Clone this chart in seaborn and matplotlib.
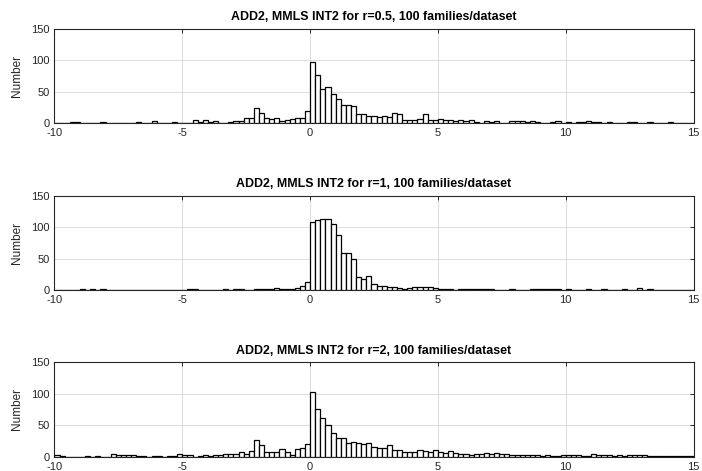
import numpy as np
import pandas as pd
import matplotlib
matplotlib.use("Agg")
import matplotlib.pyplot as plt
import seaborn as sns

# ---------------- data ----------------
titles = [
    "ADD2, MMLS INT2 for r=0.5, 100 families/dataset",
    "ADD2, MMLS INT2 for r=1, 100 families/dataset",
    "ADD2, MMLS INT2 for r=2, 100 families/dataset",
]
bin_start = -10.0
bin_width = 0.2

counts_r05 = [
    1, 1, 1, 2, 2, 1, 1, 1, 1, 2,
    1, 1, 1, 0, 0, 1, 2, 0, 1, 3,
    1, 1, 1, 2, 1, 1, 1, 5, 2, 5,
    2, 3, 1, 1, 2, 3, 4, 8, 9, 24,
    17, 9, 7, 8, 3, 5, 7, 9, 8, 20,
    97, 77, 55, 58, 46, 38, 29, 29, 28, 15,
    15, 12, 11, 10, 12, 10, 16, 14, 6, 5,
    6, 7, 14, 6, 5, 7, 5, 5, 3, 6,
    3, 5, 2, 1, 3, 2, 4, 1, 0, 3,
    3, 4, 2, 3, 2, 1, 1, 2, 3, 1,
    2, 1, 2, 2, 3, 2, 2, 1, 2, 1,
    1, 1, 2, 2, 1, 1, 2, 1, 1, 1,
    2, 1, 1, 1, 1,
]
counts_r1 = [
    0, 0, 0, 0, 0, 2, 0, 1, 0, 1,
    0, 0, 0, 0, 0, 0, 0, 0, 0, 0,
    0, 0, 0, 0, 0, 0, 1, 1, 0, 0,
    0, 0, 0, 1, 0, 1, 1, 0, 0, 1,
    2, 1, 1, 3, 2, 2, 1, 3, 7, 13,
    108, 111, 112, 112, 105, 88, 59, 58, 49, 21,
    17, 22, 10, 6, 7, 4, 5, 3, 2, 3,
    4, 5, 5, 4, 3, 2, 1, 1, 0, 1,
    1, 2, 2, 2, 2, 1, 0, 0, 0, 1,
    0, 0, 0, 1, 1, 1, 1, 1, 2, 0,
    1, 0, 0, 0, 1, 0, 0, 1, 0, 0,
    0, 1, 0, 0, 3, 0, 1, 0, 0, 0,
    0, 0, 0, 0, 0,
]
counts_r2 = [
    3, 1, 0, 0, 0, 0, 1, 0, 1, 0,
    0, 5, 2, 2, 3, 3, 1, 1, 0, 1,
    1, 0, 1, 1, 4, 2, 2, 0, 1, 2,
    1, 2, 2, 5, 5, 4, 7, 5, 9, 27,
    19, 8, 8, 8, 12, 7, 3, 12, 14, 20,
    102, 75, 61, 50, 38, 29, 29, 22, 24, 22,
    20, 21, 15, 14, 14, 18, 10, 11, 7, 8,
    8, 10, 9, 8, 10, 8, 6, 9, 6, 5,
    4, 3, 5, 4, 6, 4, 6, 4, 5, 3,
    2, 3, 2, 2, 2, 1, 2, 1, 1, 2,
    2, 3, 2, 1, 1, 4, 2, 2, 2, 1,
    2, 1, 2, 2, 2, 2, 1, 1, 1, 1,
    1, 1, 1, 1, 1,
]
all_counts = [counts_r05, counts_r1, counts_r2]

x_ticks = [-10, -5, 0, 5, 10, 15]
y_ticks = [0, 50, 100, 150]
y_label = "Number"

# ---------------- style ----------------
sns.set_style("white")
plt.rcParams["font.family"] = ["Liberation Sans", "DejaVu Sans"]
plt.rcParams["axes.unicode_minus"] = False

fig = plt.figure(figsize=(7.02, 4.71), dpi=100)
left, width, height = 0.0776, 0.9103, 0.2006
bottoms = [0.7382, 0.3843, 0.0304]

for counts, title, bottom in zip(all_counts, titles, bottoms):
    ax = fig.add_axes([left, bottom, width, height])
    n = len(counts)
    centers = bin_start + bin_width * (np.arange(n) + 0.5)
    df = pd.DataFrame({"value": centers, "count": np.asarray(counts, float)})
    sns.histplot(data=df, x="value", weights="count",
                 binwidth=bin_width, binrange=(bin_start, bin_start + n * bin_width),
                 ax=ax, color="white", edgecolor="black", linewidth=0.9,
                 alpha=1.0, zorder=3)
    ax.set_xlim(x_ticks[0], x_ticks[-1])
    ax.set_ylim(y_ticks[0], y_ticks[-1])
    ax.set_xticks(x_ticks)
    ax.set_yticks(y_ticks)
    ax.grid(True, color="#dcdcdc", linewidth=0.7, zorder=0)
    ax.set_axisbelow(True)
    ax.tick_params(direction="in", top=True, right=True, length=3,
                   width=0.7, labelsize=8, colors="#262626", pad=3.5)
    for sp in ax.spines.values():
        sp.set_color("#262626")
        sp.set_linewidth(0.8)
    ax.set_xlabel("")
    ax.set_ylabel(y_label, fontsize=8.5, color="#262626", labelpad=6)
    ax.set_title(title, fontsize=8.9, fontweight="bold", color="black", pad=6)

fig.savefig("out.png", dpi=100)
